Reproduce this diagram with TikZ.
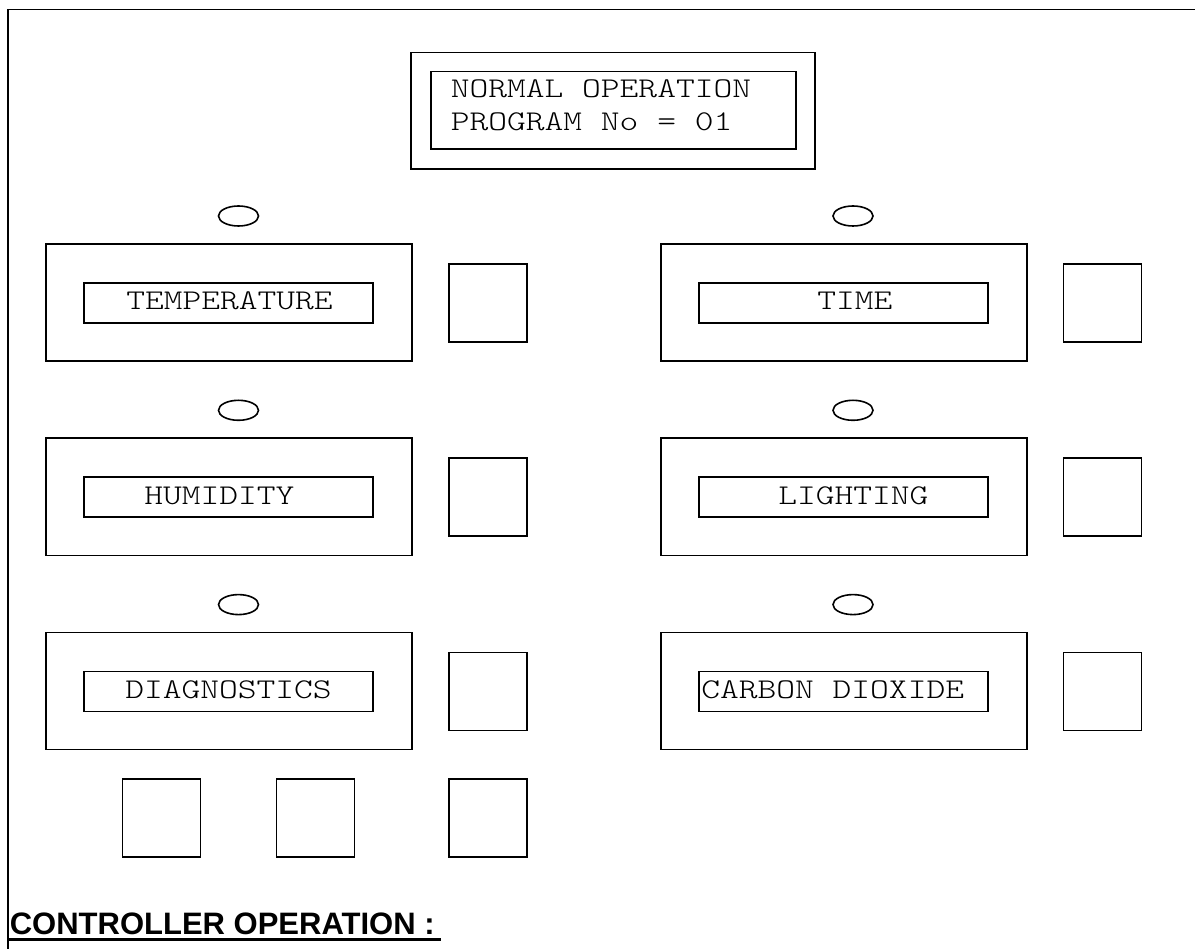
\documentclass[tikz,border=0pt]{standalone}
\usepackage{fontspec}
\setmainfont{Liberation Sans}
\newfontfamily\lcdfont{lmmonolt10-regular.otf}[FakeStretch=1.25]
\usetikzlibrary{positioning,shapes.geometric}

\begin{document}
\begin{tikzpicture}[x=1pt,y=-1pt,line width=1.6pt,
  panel/.style={draw,minimum width=366pt,minimum height=117pt,inner sep=0pt},
  lcd/.style={draw,minimum width=289pt,minimum height=40pt,inner sep=0pt},
  keypad/.style={draw,minimum width=78pt,minimum height=78pt,inner sep=0pt},
  lamp/.style={draw,ellipse,minimum width=40pt,minimum height=20pt,inner sep=0pt},
  lcdtext/.style={font=\lcdfont\fontsize{28.6}{32}\selectfont,inner sep=0pt,anchor=base west}]
  \useasboundingbox (0,0) rectangle (1195,949);
  % frame
  \draw[line width=1.5pt] (8,949) |- (1195,9.5);
  % main display
  \node[draw,minimum width=404pt,minimum height=116.5pt,inner sep=0pt] (dispout) at (613,110.8) {};
  \node[draw,minimum width=365pt,minimum height=77.5pt,inner sep=0pt] (dispin) at (613.5,110.4) {};
  \node[lcdtext] (line1) at (450,98) {NORMAL OPERATION};
  \node[lcdtext] (line2) at (450,131) {PROGRAM No = 01};
  % left column
  \foreach \r/\lbl/\tx in {0/TEMPERATURE/125.5,1/HUMIDITY/143.5,2/DIAGNOSTICS/124.5}{
    \node[lamp] (lampL\r) at (238.5,216+194.3*\r) {};
    \node[panel] (panelL\r) at (229,302.5+194.3*\r) {};
    \node[lcd] (lcdL\r) at (228.5,303+194.3*\r) {};
    \node[lcdtext] (txtL\r) at (\tx,310+194.3*\r) {\lbl};
    \node[keypad] (keyL\r) at (488,303+194.3*\r) {};
  }
  % right column
  \foreach \r/\lbl/\tx in {0/TIME/816.5,1/LIGHTING/777.5,2/CARBON DIOXIDE/700.5}{
    \node[lamp] (lampR\r) at (853,216+194.3*\r) {};
    \node[panel] (panelR\r) at (843.7,302.5+194.3*\r) {};
    \node[lcd] (lcdR\r) at (843.5,303+194.3*\r) {};
    \node[lcdtext] (txtR\r) at (\tx,310+194.3*\r) {\lbl};
    \node[keypad] (keyR\r) at (1102.5,303+194.3*\r) {};
  }
  % bottom keys
  \foreach \k/\x in {1/161.5,2/315.5,3/488}
    \node[keypad] (keyB\k) at (\x,818) {};
  % heading
  \node[font=\fontsize{31}{34}\selectfont\bfseries,inner sep=0pt,anchor=base west] (title) at (9,934) {CONTROLLER OPERATION :};
  \draw[line width=3pt] (8,939.2) -- (441,939.2);
\end{tikzpicture}
\end{document}
